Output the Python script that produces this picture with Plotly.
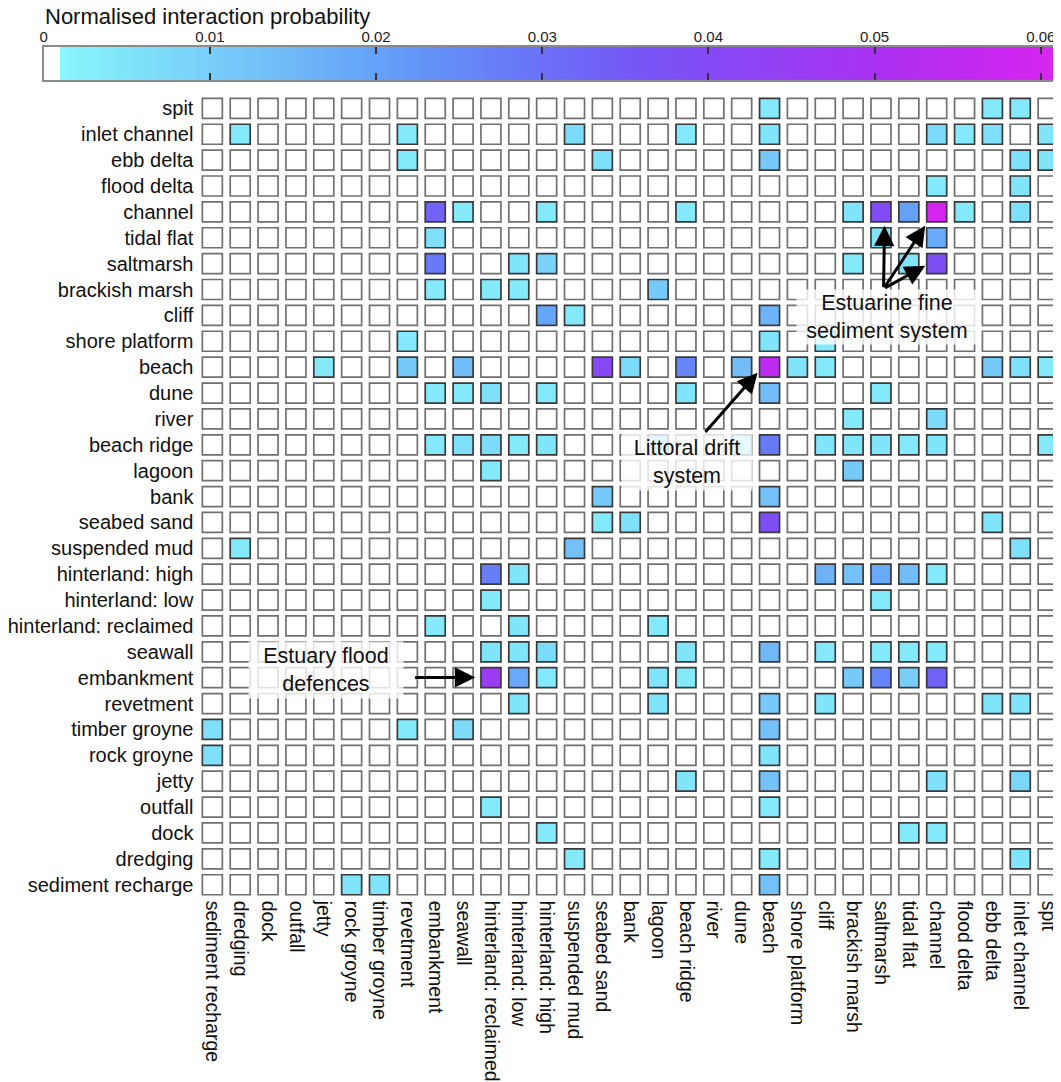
import numpy as np
import plotly.graph_objects as go

# ---------------- data ----------------
col_labels = ["sediment recharge", "dredging", "dock", "outfall", "jetty", "rock groyne",
              "timber groyne", "revetment", "embankment", "seawall", "hinterland: reclaimed",
              "hinterland: low", "hinterland: high", "suspended mud", "seabed sand", "bank",
              "lagoon", "beach ridge", "river", "dune", "beach", "shore platform", "cliff",
              "brackish marsh", "saltmarsh", "tidal flat", "channel", "flood delta", "ebb delta",
              "inlet channel", "spit"]
row_labels = list(reversed(col_labels))  # top to bottom

colorbar_ticks = [0, 0.01, 0.02, 0.03, 0.04, 0.05, 0.06]
colorbar_ticktext = ["0", "0.01", "0.02", "0.03", "0.04", "0.05", "0.06"]

# non-zero interactions (row label, column label, value)
link_row = []
link_col = []
link_value = []

def add(row, pairs):
    for c, v in pairs:
        link_row.append(row)
        link_col.append(c)
        link_value.append(v)

add("spit", [("beach", .004), ("ebb delta", .004), ("inlet channel", .004)])
add("inlet channel", [("dredging", .004), ("revetment", .004), ("suspended mud", .007),
                      ("beach ridge", .004), ("beach", .005), ("channel", .007),
                      ("flood delta", .004), ("ebb delta", .006), ("spit", .005)])
add("ebb delta", [("revetment", .004), ("seabed sand", .006), ("beach", .011),
                  ("inlet channel", .006), ("spit", .005)])
add("flood delta", [("channel", .004), ("inlet channel", .005)])
add("channel", [("embankment", .033), ("seawall", .004), ("hinterland: high", .004),
                ("beach ridge", .004), ("brackish marsh", .005), ("saltmarsh", .039),
                ("tidal flat", .020), ("channel", .060), ("flood delta", .004),
                ("inlet channel", .006)])
add("tidal flat", [("embankment", .006), ("saltmarsh", .005), ("channel", .018)])
add("saltmarsh", [("embankment", .028), ("hinterland: low", .005), ("hinterland: high", .009),
                  ("brackish marsh", .004), ("tidal flat", .005), ("channel", .038)])
add("brackish marsh", [("embankment", .004), ("hinterland: reclaimed", .004),
                       ("hinterland: low", .004), ("lagoon", .011)])
add("cliff", [("hinterland: high", .019), ("suspended mud", .004), ("beach", .016)])
add("shore platform", [("revetment", .004), ("beach", .005), ("cliff", .004)])
add("beach", [("jetty", .004), ("revetment", .011), ("seawall", .014), ("seabed sand", .041),
              ("bank", .007), ("beach ridge", .026), ("dune", .014), ("beach", .054),
              ("shore platform", .005), ("cliff", .004), ("ebb delta", .011),
              ("inlet channel", .006), ("spit", .004)])
add("dune", [("embankment", .004), ("seawall", .004), ("hinterland: reclaimed", .006),
             ("hinterland: high", .004), ("beach ridge", .005), ("beach", .014),
             ("saltmarsh", .004)])
add("river", [("brackish marsh", .004), ("channel", .007)])
add("beach ridge", [("embankment", .004), ("seawall", .006), ("hinterland: reclaimed", .007),
                    ("hinterland: low", .004), ("hinterland: high", .005), ("lagoon", .008),
                    ("dune", .006), ("beach", .028), ("cliff", .005), ("brackish marsh", .005),
                    ("saltmarsh", .005), ("tidal flat", .004), ("channel", .005),
                    ("spit", .004)])
add("lagoon", [("hinterland: reclaimed", .004), ("brackish marsh", .011)])
add("bank", [("seabed sand", .011), ("beach", .013)])
add("seabed sand", [("seabed sand", .004), ("bank", .006), ("beach", .038), ("ebb delta", .005)])
add("suspended mud", [("dredging", .004), ("suspended mud", .013), ("inlet channel", .006)])
add("hinterland: high", [("hinterland: reclaimed", .027), ("hinterland: low", .005),
                         ("cliff", .016), ("brackish marsh", .013), ("saltmarsh", .018),
                         ("tidal flat", .014), ("channel", .004)])
add("hinterland: low", [("hinterland: reclaimed", .004), ("saltmarsh", .004)])
add("hinterland: reclaimed", [("embankment", .004), ("hinterland: low", .005), ("lagoon", .004)])
add("seawall", [("hinterland: reclaimed", .005), ("hinterland: low", .005),
                ("hinterland: high", .007), ("beach ridge", .005), ("beach", .015),
                ("cliff", .004), ("saltmarsh", .004), ("tidal flat", .004), ("channel", .004)])
add("embankment", [("hinterland: reclaimed", .046), ("hinterland: low", .018),
                   ("hinterland: high", .004), ("lagoon", .005), ("beach ridge", .004),
                   ("brackish marsh", .011), ("saltmarsh", .026), ("tidal flat", .010),
                   ("channel", .033)])
add("revetment", [("hinterland: low", .005), ("lagoon", .005), ("beach", .011), ("cliff", .005),
                  ("ebb delta", .005), ("inlet channel", .005)])
add("timber groyne", [("sediment recharge", .006), ("revetment", .004), ("seawall", .007),
                      ("beach", .013)])
add("rock groyne", [("sediment recharge", .006), ("beach", .005)])
add("jetty", [("beach ridge", .005), ("beach", .013), ("channel", .006), ("inlet channel", .008)])
add("outfall", [("hinterland: reclaimed", .004), ("beach", .004)])
add("dock", [("hinterland: high", .004), ("tidal flat", .004), ("channel", .004)])
add("dredging", [("suspended mud", .004), ("beach", .004), ("inlet channel", .005)])
add("sediment recharge", [("rock groyne", .005), ("timber groyne", .005), ("beach", .013)])

# ---------------- colour scale ----------------
CMAX = 0.0611
stops_v = [0, 0.00095, 0.001, 0.005, 0.01, 0.015, 0.02, 0.025, 0.03, 0.035, 0.04,
           0.045, 0.05, 0.055, 0.06, CMAX]
stops_c = ['#ffffff', '#ffffff', '#8af6fc', '#80e4fa', '#78cef9', '#70b8f8', '#64a1f8',
           '#6489f7', '#6a71f7', '#7459f6', '#8449f5', '#973ef3', '#a931f1', '#bf29f0',
           '#d426f0', '#d626f0']
colorscale = [[v / CMAX, c] for v, c in zip(stops_v, stops_c)]

# ---------------- build full grid ----------------
lookup = {(r, c): v for r, c, v in zip(link_row, link_col, link_value)}
xs, ys, vals, lcols = [], [], [], []
for r in row_labels:
    for c in col_labels:
        v = lookup.get((r, c), 0.0)
        xs.append(c)
        ys.append(r)
        vals.append(v)
        lcols.append('#3a3a3a' if v > 0 else '#707070')

OFF = 8                      # page body margin
W, H = 1061 - OFF, 1082 - OFF
def fx(px):
    return (px - OFF) / W
def fy(py):
    return 1 - (py - OFF) / H

FONT = "Liberation Sans, Arial, Helvetica, sans-serif"

fig = go.Figure()
fig.add_trace(go.Scatter(
    x=xs, y=ys, mode='markers',
    marker=dict(symbol='square', size=20, color=vals, colorscale=colorscale,
                cmin=0, cmax=CMAX, line=dict(color=lcols, width=1.7)),
    hoverinfo='skip', showlegend=False))

bar_x = np.linspace(0, CMAX, 1223)
fig.add_trace(go.Heatmap(
    x=bar_x, y=[0], z=[bar_x], colorscale=colorscale, zmin=0, zmax=CMAX,
    showscale=False, xaxis='x2', yaxis='y2', hoverinfo='skip'))

# data-coordinate helpers for annotation placement
def dx(px):
    return (px - 207) / 28.1
def dy(py):
    return (py - 108.5) / 25.9

annotations = [
    dict(text="Normalised interaction probability", xref='paper', yref='paper',
         x=fx(36), y=fy(17), xanchor='left', yanchor='middle', showarrow=False,
         font=dict(size=22, color='#111', family=FONT)),
]

boxes = [
    ("Estuarine fine<br>sediment system", 887, 317, 176, 50),
    ("Littoral drift<br>system", 686, 462, 126, 52),
    ("Estuary flood<br>defences", 322, 671, 150, 52),
]
for txt, px, py, w, h in boxes:
    annotations.append(dict(text=txt, x=dx(px), y=dy(py), xref='x', yref='y',
                            showarrow=False, width=w, height=h,
                            bgcolor='rgba(255,255,255,0.8)', borderpad=2,
                            font=dict(size=21.5, color='#111', family=FONT)))

arrows = [
    ((884, 289), (885, 226)),
    ((884, 289), (926, 226)),
    ((884, 289), (926, 266)),
    ((703, 434), (757, 373)),
    ((410, 678), (472, 678)),
]
for (tx, ty), (hx, hy) in arrows:
    annotations.append(dict(text='', x=dx(hx), y=dy(hy), xref='x', yref='y',
                            ax=dx(tx), ay=dy(ty), axref='x', ayref='y',
                            showarrow=True, arrowhead=2, arrowsize=1.35, arrowwidth=3,
                            arrowcolor='#000', standoff=0, startstandoff=0))

fig.update_layout(
    width=W, height=H, margin=dict(l=0, r=0, t=0, b=0),
    paper_bgcolor='white', plot_bgcolor='white',
    font=dict(family=FONT, color='#111'),
    xaxis=dict(domain=[fx(193), 1], range=[-0.5, 30.39], type='category',
               categoryorder='array', categoryarray=col_labels, tickangle=90,
               tickfont=dict(size=19.5, color='#111'), showgrid=False, zeroline=False,
               showline=False, ticks='', ticklabelstandoff=2),
    yaxis=dict(domain=[fy(898.5), fy(95.5)], range=[30.5, -0.5], type='category',
               categoryorder='array', categoryarray=row_labels,
               tickfont=dict(size=20, color='#111'), showgrid=False, zeroline=False,
               showline=False, ticks='', ticklabelstandoff=4),
    xaxis2=dict(domain=[fx(37), 1], range=[0, CMAX], anchor='y2', side='top',
                tickvals=colorbar_ticks, ticktext=colorbar_ticktext, ticks='inside',
                ticklen=7, tickwidth=1.5, tickcolor='#333', showline=True,
                linecolor='#8a8a8a', linewidth=1.5, mirror='ticks', showgrid=False,
                zeroline=False, tickfont=dict(size=15, color='#222'),
                ticklabelstandoff=-3),
    yaxis2=dict(domain=[fy(80), fy(47)], anchor='x2', range=[-0.5, 0.5],
                showticklabels=False, showline=True, linecolor='#8a8a8a', linewidth=1.5,
                mirror=True, ticks='', showgrid=False, zeroline=False),
    annotations=annotations,
)

fig.write_html("out.html")
